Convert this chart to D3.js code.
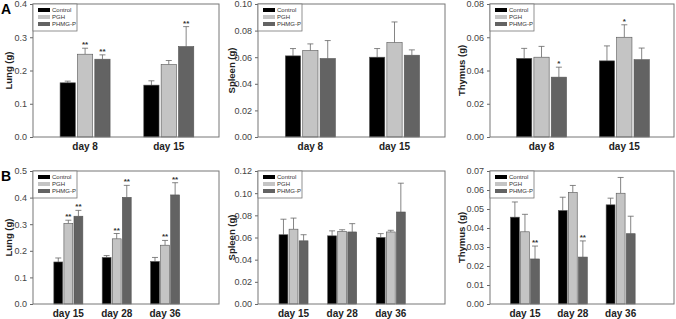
<!DOCTYPE html>
<html>
<head>
<meta charset="UTF-8">
<title>Organ weights</title>
<script src="https://cdn.jsdelivr.net/npm/d3@7"></script>
<style>
  body { margin: 0; background: #fff; }
  svg { display: block; font-family: Arial, "Liberation Sans", sans-serif; }
  .tick text { fill: #444; font-size: 9px; }
  .albl { font-weight: bold; font-size: 9.5px; fill: #222; }
  .xlbl { font-weight: bold; font-size: 10px; fill: #222; }
  .leg text { font-size: 6px; fill: #333; }
</style>
</head>
<body>
<svg id="chart" width="676" height="319"></svg>
<script>
// groups / series
const series = ["Control", "PGH", "PHMG-P"];
const colors = ["#000000", "#c4c4c4", "#636363"];
const daysA = ["day 8", "day 15"];
const daysB = ["day 15", "day 28", "day 36"];

// A: mean, sd (upper error), significance per day x series
const lungA   = [[0.163, 0.249, 0.234], [0.156, 0.218, 0.272]];
const lungAe  = [[0.005, 0.018, 0.013], [0.013, 0.012, 0.060]];
const lungAs  = [["", "**", "**"], ["", "", "**"]];
const spleenA  = [[0.061, 0.065, 0.059], [0.060, 0.071, 0.0615]];
const spleenAe = [[0.0055, 0.005, 0.0135], [0.0065, 0.0155, 0.004]];
const spleenAs = [["", "", ""], ["", "", ""]];
const thymusA  = [[0.0473, 0.048, 0.036], [0.0458, 0.060, 0.0465]];
const thymusAe = [[0.006, 0.0065, 0.006], [0.009, 0.0075, 0.007]];
const thymusAs = [["", "", "*"], ["", "*", ""]];

// B
const lungB   = [[0.158, 0.303, 0.330], [0.175, 0.245, 0.401], [0.160, 0.221, 0.410]];
const lungBe  = [[0.015, 0.012, 0.022], [0.007, 0.020, 0.045], [0.015, 0.018, 0.046]];
const lungBs  = [["", "**", "**"], ["", "**", "**"], ["", "**", "**"]];
const spleenB  = [[0.0625, 0.0675, 0.057], [0.0615, 0.0655, 0.065], [0.060, 0.065, 0.083]];
const spleenBe = [[0.014, 0.010, 0.0055], [0.0045, 0.0015, 0.0075], [0.0035, 0.0015, 0.026]];
const spleenBs = [["", "", ""], ["", "", ""], ["", "", ""]];
const thymusB  = [[0.0457, 0.038, 0.0237], [0.0492, 0.0587, 0.0247], [0.0522, 0.0583, 0.037]];
const thymusBe = [[0.008, 0.0092, 0.0068], [0.007, 0.0037, 0.0085], [0.0035, 0.0083, 0.0092]];
const thymusBs = [["", "", "**"], ["", "", "**"], ["", "", ""]];

const svg = d3.select("#chart");

const cols = [[33, 219], [258, 445], [490, 674]];
const labOff = [21, 23, 25];
const rowA = [4, 137], rowB = [171, 304];

// f0/f1: where the first / last group centre sits, as a share of the plot width
const panels = [
  {col: 0, row: rowA, days: daysA, v: lungA, e: lungAe, s: lungAs, max: 0.4, step: 0.1, fmt: ".1f", label: "Lung (g)", f0: 0.28, f1: 0.73, gw: 50},
  {col: 1, row: rowA, days: daysA, v: spleenA, e: spleenAe, s: spleenAs, max: 0.10, step: 0.02, fmt: ".2f", label: "Spleen (g)", f0: 0.28, f1: 0.73, gw: 50},
  {col: 2, row: rowA, days: daysA, v: thymusA, e: thymusAe, s: thymusAs, max: 0.08, step: 0.02, fmt: ".2f", label: "Thymus (g)", f0: 0.28, f1: 0.73, gw: 50},
  {col: 0, row: rowB, days: daysB, v: lungB, e: lungBe, s: lungBs, max: 0.5, step: 0.1, fmt: ".1f", label: "Lung (g)", f0: 0.19, f1: 0.71, gw: 29},
  {col: 1, row: rowB, days: daysB, v: spleenB, e: spleenBe, s: spleenBs, max: 0.12, step: 0.02, fmt: ".2f", label: "Spleen (g)", f0: 0.19, f1: 0.71, gw: 29},
  {col: 2, row: rowB, days: daysB, v: thymusB, e: thymusBe, s: thymusBs, max: 0.07, step: 0.01, fmt: ".2f", label: "Thymus (g)", f0: 0.19, f1: 0.71, gw: 29}
];

panels.forEach(p => {
  const [x0, x1] = cols[p.col];
  const [y0, y1] = p.row;
  const w = x1 - x0;
  const g = svg.append("g");

  const x = d3.scalePoint().domain(p.days).range([x0 + p.f0 * w, x0 + p.f1 * w]);
  const xs = d3.scaleBand().domain(series).range([-p.gw / 2, p.gw / 2]).paddingInner(0.12);
  const y = d3.scaleLinear().domain([0, p.max]).range([y1, y0]);

  // y axis
  const ticks = d3.range(0, p.max + p.step / 2, p.step);
  g.append("g")
    .attr("transform", `translate(${x0},0)`)
    .call(d3.axisLeft(y).tickValues(ticks).tickFormat(d3.format(p.fmt)).tickSize(3).tickPadding(3))
    .call(a => a.select(".domain").remove())
    .call(a => a.selectAll("line").attr("stroke", "#666"));

  // bars
  p.days.forEach((day, i) => {
    series.forEach((s, j) => {
      const bx = x(day) + xs(s);
      const val = p.v[i][j], err = p.e[i][j];
      const cx = bx + xs.bandwidth() / 2;
      g.append("line")
        .attr("x1", cx).attr("x2", cx)
        .attr("y1", y(val)).attr("y2", y(val + err))
        .attr("stroke", "#666").attr("stroke-width", 0.8);
      g.append("line")
        .attr("x1", cx - 3).attr("x2", cx + 3)
        .attr("y1", y(val + err)).attr("y2", y(val + err))
        .attr("stroke", "#666").attr("stroke-width", 0.8);
      g.append("rect")
        .attr("x", bx).attr("y", y(val))
        .attr("width", xs.bandwidth()).attr("height", y(0) - y(val))
        .attr("fill", colors[j]).attr("stroke", "#555").attr("stroke-width", 0.6);
      if (p.s[i][j]) {
        g.append("text")
          .attr("x", cx).attr("y", y(val + err) - 1)
          .attr("text-anchor", "middle")
          .attr("font-size", 8).attr("font-weight", "bold").attr("fill", "#333")
          .text(p.s[i][j]);
      }
    });
    g.append("text").attr("class", "xlbl")
      .attr("x", x(day)).attr("y", y1 + 13)
      .attr("text-anchor", "middle").text(day);
  });

  // frame
  g.append("rect")
    .attr("x", x0).attr("y", y0).attr("width", w).attr("height", y1 - y0)
    .attr("fill", "none").attr("stroke", "#777").attr("stroke-width", 1);

  // y label
  g.append("text").attr("class", "albl")
    .attr("transform", `translate(${x0 - labOff[p.col]},${(y0 + y1) / 2}) rotate(-90)`)
    .attr("text-anchor", "middle").text(p.label);

  // legend
  const lg = g.append("g").attr("class", "leg").attr("transform", `translate(${x0},${y0})`);
  lg.append("rect").attr("width", 44).attr("height", 27)
    .attr("fill", "#fff").attr("stroke", "#777").attr("stroke-width", 0.8);
  series.forEach((s, j) => {
    lg.append("rect").attr("x", 5).attr("y", 4 + j * 7).attr("width", 12).attr("height", 4)
      .attr("fill", colors[j]);
    lg.append("text").attr("x", 19).attr("y", 8 + j * 7).text(s);
  });
});

// panel letters
svg.append("text").attr("x", 1).attr("y", 14).attr("font-size", 14).attr("font-weight", "bold").text("A");
svg.append("text").attr("x", 1).attr("y", 181).attr("font-size", 14).attr("font-weight", "bold").text("B");
</script>
</body>
</html>
